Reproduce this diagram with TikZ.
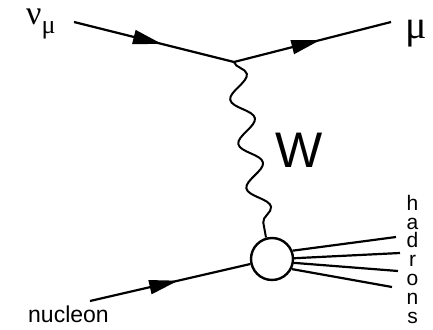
\documentclass[tikz,border=0pt]{standalone}
\usepackage{fontspec}
\setsansfont{Liberation Sans}
\newfontfamily\greekserif{Liberation Serif}
\usetikzlibrary{decorations.pathmorphing,decorations.markings,arrows.meta}
\begin{document}
\begin{tikzpicture}[x=1pt,y=-1pt,
  fermion/.style={line width=2.2pt,
    postaction={decorate},
    decoration={markings, mark=at position 0.55 with {\arrow{Triangle[length=29pt,width=14pt]}}}},
  boson/.style={line width=2pt, decorate,
    decoration={snake, segment length=45pt, amplitude=10.5pt}},
  jet/.style={line width=2.2pt},
  lbl/.style={inner sep=0pt, font=\sffamily},
  letter/.style={inner sep=0pt, anchor=base, font=\sffamily\fontsize{21}{22}\selectfont}]
\useasboundingbox (0,0) rectangle (433,329);
\coordinate (nuin) at (74,22);
\coordinate (vtx) at (234,62);
\coordinate (muout) at (391,22);
\coordinate (nucin) at (90,301);
\node[circle, draw, line width=2.4pt, minimum size=42pt, inner sep=0pt] (blob) at (272,259) {};
\coordinate (wend) at (266,237.5);
\coordinate (h1) at (396,237);
\coordinate (h2) at (400,253);
\coordinate (h3) at (398,271);
\coordinate (h4) at (392,287);
\draw[fermion] (nuin) -- (vtx);
\draw[fermion] (vtx) -- (muout);
\draw[fermion] (nucin) -- (blob);
\draw[boson] (vtx) -- (wend);
\draw[jet] (blob.22) -- (h1);
\draw[jet] (blob.2) -- (h2);
\draw[jet] (blob.-10) -- (h3);
\draw[jet] (blob.-27) -- (h4);
\node[inner sep=0pt, anchor=base west] (numu) at (26,25) {\greekserif\fontsize{34}{38}\selectfont ν\raisebox{-8.7pt}{\fontsize{26}{28}\selectfont μ}};
\node[inner sep=0pt, anchor=base west] (mu) at (405,38) {\greekserif\fontsize{40}{44}\selectfont μ};
\node[lbl, font=\sffamily\fontsize{50}{55}\selectfont] (W) at (299,150) {W};
\node[lbl, anchor=base west, font=\sffamily\fontsize{23}{26}\selectfont] (nucleon) at (28,322) {nucleon};
\node[letter] (lh) at (412.5,210.2) {h};
\node[letter] (la) at (412.5,229) {a};
\node[letter] (ld) at (412.5,247.8) {d};
\node[letter] (lr) at (412.5,266.6) {r};
\node[letter] (lo) at (412.5,285.4) {o};
\node[letter] (ln) at (412.5,304.2) {n};
\node[letter] (ls) at (412.5,323) {s};
\end{tikzpicture}
\end{document}
